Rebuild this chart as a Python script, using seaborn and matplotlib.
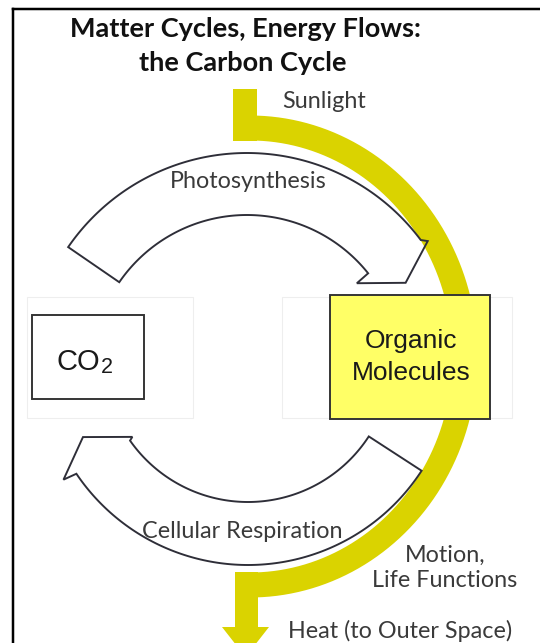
import numpy as np
import pandas as pd
import matplotlib
matplotlib.use("Agg")
import matplotlib.pyplot as plt
import seaborn as sns
from matplotlib.patches import Polygon, Rectangle

# ---- text content ----
TITLE_LINES = ["Matter Cycles, Energy Flows:", "the Carbon Cycle"]
CO2_PARTS = ["CO", "2"]
ORGANIC_LINES = ["Organic", "Molecules"]
PROCESS_LABELS = ["Photosynthesis", "Cellular Respiration"]
ENERGY_LABELS = ["Sunlight", "Motion,", "Life Functions", "Heat (to Outer Space)"]

YELLOW = "#DAD300"
BOX_YELLOW = "#FFFF66"
EDGE = "#2e2e38"
LABEL_C = "#3a3a3a"
PX = 0.72  # points per pixel at dpi 100

sns.set_theme(style="white")
plt.rcParams["font.family"] = ["Lato", "DejaVu Sans"]

fig = plt.figure(figsize=(5.4, 6.43), dpi=100)
ax = fig.add_axes([0, 0, 1, 1])


def pol(c, r, a):
    a = np.radians(a)
    return c[0] + r * np.cos(a), c[1] - r * np.sin(a)


def curved_arrow(c, r_in, r_out, a_start, a_end_out, a_end_in,
                 barb_out, barb_in, tip):
    pts = []
    for a in np.linspace(a_start, a_end_out, 120):
        pts.append(pol(c, r_out, a))
    pts.append(pol(c, *barb_out))
    pts.append(pol(c, *tip))
    pts.append(pol(c, *barb_in))
    for a in np.linspace(a_end_in, a_start, 120):
        pts.append(pol(c, r_in, a))
    return pts


# ---- energy flow (yellow) ----
t = np.linspace(90, -90, 400)
arc = pd.DataFrame({"x": 250 + 215 * np.cos(np.radians(t)),
                    "y": 356.5 - 228.5 * np.sin(np.radians(t))})
sns.lineplot(data=arc, x="x", y="y", sort=False, estimator=None,
             color=YELLOW, linewidth=25 * PX, solid_capstyle="butt",
             ax=ax, zorder=2)
ax.add_patch(Rectangle((233, 89), 24, 52, fc=YELLOW, lw=0, zorder=2))
ax.add_patch(Rectangle((235, 572), 23, 57, fc=YELLOW, lw=0, zorder=2))
ax.add_patch(Polygon([(222, 627), (269, 627), (245.5, 657)], closed=True,
                     fc=YELLOW, lw=0, zorder=2))

# ---- matter cycle arrows (white) ----
photo = curved_arrow((247, 370), 155, 217, 145.5, 36.8, 38.6,
                     (222, 35.5), (140, 38.3), (181, 28.8))
resp = curved_arrow((248, 358), 144, 207, -33, -146.0, -145.0,
                    (221, -146.6), (140, -145.7), (183, -154.4))
for pts in (photo, resp):
    ax.add_patch(Polygon(pts, closed=True, fc="white", lw=0, zorder=1))
    ax.add_patch(Polygon(pts, closed=True, fill=False, ec=EDGE,
                         lw=1.6 * PX * 1.2, joinstyle="miter", zorder=3))

# faint background frames
for (x0, y0, w, h) in [(27, 297, 166, 121), (282, 297, 230, 121)]:
    ax.add_patch(Rectangle((x0, y0), w, h, fill=False, ec="#eeeeee",
                           lw=0.8, zorder=0))

# ---- boxes ----
ax.add_patch(Rectangle((32, 315), 112, 84, fc="white", ec="#333333",
                       lw=1.6 * PX * 1.2, zorder=4))
ax.add_patch(Rectangle((330, 295), 160, 124, fc=BOX_YELLOW, ec="#333333",
                       lw=1.6 * PX * 1.2, zorder=4))

box_font = ["Liberation Sans", "DejaVu Sans"]
ax.text(100, 370, CO2_PARTS[0], ha="right", va="baseline", fontsize=21,
        family=box_font, color="#1a1a1a", zorder=5)
ax.text(100.5, 373, CO2_PARTS[1], ha="left", va="baseline", fontsize=15.5,
        family=box_font, color="#1a1a1a", zorder=5)
ax.text(411, 348, ORGANIC_LINES[0], ha="center", va="baseline", fontsize=19,
        family=box_font, color="#1a1a1a", zorder=5)
ax.text(411, 380, ORGANIC_LINES[1], ha="center", va="baseline", fontsize=19,
        family=box_font, color="#1a1a1a", zorder=5)

# ---- title ----
ax.text(245, 37, TITLE_LINES[0], ha="center", va="baseline", fontsize=19.5,
        fontweight="bold", color="#111111")
ax.text(243, 71, TITLE_LINES[1], ha="center", va="baseline", fontsize=19.5,
        fontweight="bold", color="#111111")

# ---- labels ----
lab = dict(va="baseline", fontsize=16.8, color=LABEL_C, zorder=6)
ax.text(282, 108, ENERGY_LABELS[0], ha="left", **lab)
ax.text(248, 188, PROCESS_LABELS[0], ha="center", **lab)
ax.text(242, 538, PROCESS_LABELS[1], ha="center", **lab)
ax.text(445, 562, ENERGY_LABELS[1], ha="center", **lab)
ax.text(445, 587, ENERGY_LABELS[2], ha="center", **lab)
ax.text(288, 638, ENERGY_LABELS[3], ha="left", **lab)

# ---- frame ----
ax.plot([13, 13], [643, 9], color="black", lw=2.5 * PX, solid_capstyle="projecting")
ax.plot([13, 539], [9, 9], color="black", lw=2.5 * PX, solid_capstyle="projecting")

ax.set_xlim(0, 540)
ax.set_ylim(643, 0)
ax.axis("off")
fig.savefig("out.png", dpi=100, facecolor="white")
